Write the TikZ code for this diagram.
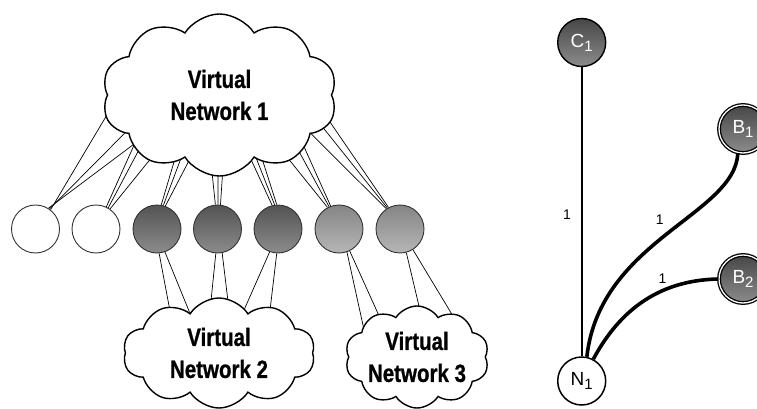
\documentclass[tikz,border=0pt]{standalone}
\usepackage{fontspec}
\setmainfont{Liberation Sans}
\newfontfamily\cloudfont[FakeStretch=0.82,FakeBold=0.8]{Liberation Sans Bold}
\usetikzlibrary{shapes.symbols,backgrounds}
\definecolor{dtop}{HTML}{535353}
\definecolor{dbot}{HTML}{8C8C8C}
\definecolor{ltop}{HTML}{858585}
\definecolor{lbot}{HTML}{B6B6B6}
\definecolor{rim}{HTML}{333333}
\newcommand{\sub}[1]{\raisebox{-0.4ex}{\fontsize{15}{15}\selectfont #1}}
\tikzset{
  vnet/.style={cloud, cloud puffs=10, cloud puff arc=115, cloud ignores aspect,
    draw=black, line width=1.4pt, fill=white, align=center, inner sep=0pt,
    font=\cloudfont\fontsize{25}{32}\selectfont},
  host/.style={circle, draw=rim, line width=0.9pt, minimum size=48pt, inner sep=0pt},
  hostwhite/.style={host, fill=white},
  hostdark/.style={host, top color=dtop, bottom color=dbot},
  hostlight/.style={host, top color=ltop, bottom color=lbot},
  wire/.style={line width=0.7pt, shorten >=-8pt},
  gnode/.style={circle, minimum size=48pt, inner sep=0pt, font=\fontsize{19}{19}\selectfont},
  gdark/.style={gnode, top color=dtop!85!black, bottom color=dbot, draw=black, line width=1.4pt, text=white},
  gring/.style={gnode, top color=dtop!85!black, bottom color=dbot, draw=black, double=white, double distance=1.3pt, line width=1.3pt, text=white},
  gwhite/.style={gnode, fill=white, draw=black, line width=1.5pt},
  thinedge/.style={line width=1.6pt},
  thickedge/.style={line width=3.6pt},
  wlabel/.style={font=\fontsize{14}{14}\selectfont, inner sep=0pt}
}
\begin{document}
\begin{tikzpicture}[x=1pt,y=-1pt]
\useasboundingbox (0,0) rectangle (757,409);

% clouds
\node[vnet, minimum width=235pt, minimum height=162pt] (vn1) at (219.5,95) {Virtual\\Network 1};
\node[vnet, minimum width=192pt, minimum height=110pt] (vn2) at (219,353) {Virtual\\Network 2};
\node[vnet, minimum width=134pt, minimum height=102pt] (vn3) at (417,357) {Virtual\\Network 3};

% hosts
\node[hostwhite] (h1) at (35.5,229) {};
\node[hostwhite] (h2) at (96,229) {};
\node[hostdark]  (h3) at (157,229) {};
\node[hostdark]  (h4) at (217.5,229) {};
\node[hostdark]  (h5) at (278,229) {};
\node[hostlight] (h6) at (339,229) {};
\node[hostlight] (h7) at (400,229) {};

\begin{scope}[on background layer]
  % to virtual network 1
  \draw[wire] (h1.52) -- (vn1.191);
  \draw[wire] (h1.55) -- (vn1.202);
  \draw[wire] (h1.58) -- (vn1.210);
  \draw[wire] (h2.65) -- (vn1.211);
  \draw[wire] (h2.60) -- (vn1.215);
  \draw[wire] (h2.55) -- (vn1.223);
  \draw[wire] (h3.80) -- (vn1.236);
  \draw[wire] (h3.75) -- (vn1.239);
  \draw[wire] (h3.70) -- (vn1.245);
  \draw[wire] (h4.95) -- (vn1.265.6);
  \draw[wire] (h4.89) -- (vn1.269);
  \draw[wire] (h4.83) -- (vn1.272);
  \draw[wire] (h5.104) -- (vn1.296);
  \draw[wire] (h5.98) -- (vn1.300);
  \draw[wire] (h5.93) -- (vn1.303);
  \draw[wire] (h6.118) -- (vn1.317);
  \draw[wire] (h6.114) -- (vn1.324.5);
  \draw[wire] (h6.110) -- (vn1.328.5);
  \draw[wire] (h7.124) -- (vn1.337);
  \draw[wire] (h7.121) -- (vn1.342);
  \draw[wire] (h7.118) -- (vn1.346.5);
  % to virtual network 2
  \draw[wire] (h3.275) -- (vn2.137);
  \draw[wire] (h3.289) -- (vn2.126.5);
  \draw[wire] (h4.266) -- (vn2.98.6);
  \draw[wire] (h4.281) -- (vn2.81.4);
  \draw[wire] (h5.250) -- (vn2.60.4);
  \draw[wire] (h5.267) -- (vn2.42.6);
  % to virtual network 3
  \draw[wire] (h6.289) -- (vn3.150);
  \draw[wire] (h6.296) -- (vn3.132);
  \draw[wire] (h7.285) -- (vn3.88);
  \draw[wire] (h7.302) -- (vn3.52);
\end{scope}

% right graph
\node[gdark]  (c1) at (581.7,42.5) {C\sub{1}};
\node[gring]  (b1) at (743,129) {B\sub{1}};
\node[gring]  (b2) at (743,279) {B\sub{2}};
\node[gwhite] (n1) at (581.7,381) {N\sub{1}};

\draw[thinedge] (c1) -- (n1) node[wlabel, pos=0.51, left=10pt] {1};
\draw[thickedge] (n1.78) .. controls (600,240) and (735,215) .. (b1.258)
  node[wlabel, pos=0.47, above=13pt] {1};
\draw[thickedge] (n1.62) .. controls (625,300) and (670,280) .. (b2.west)
  node[wlabel, pos=0.6, above=5pt] {1};
\end{tikzpicture}
\end{document}
